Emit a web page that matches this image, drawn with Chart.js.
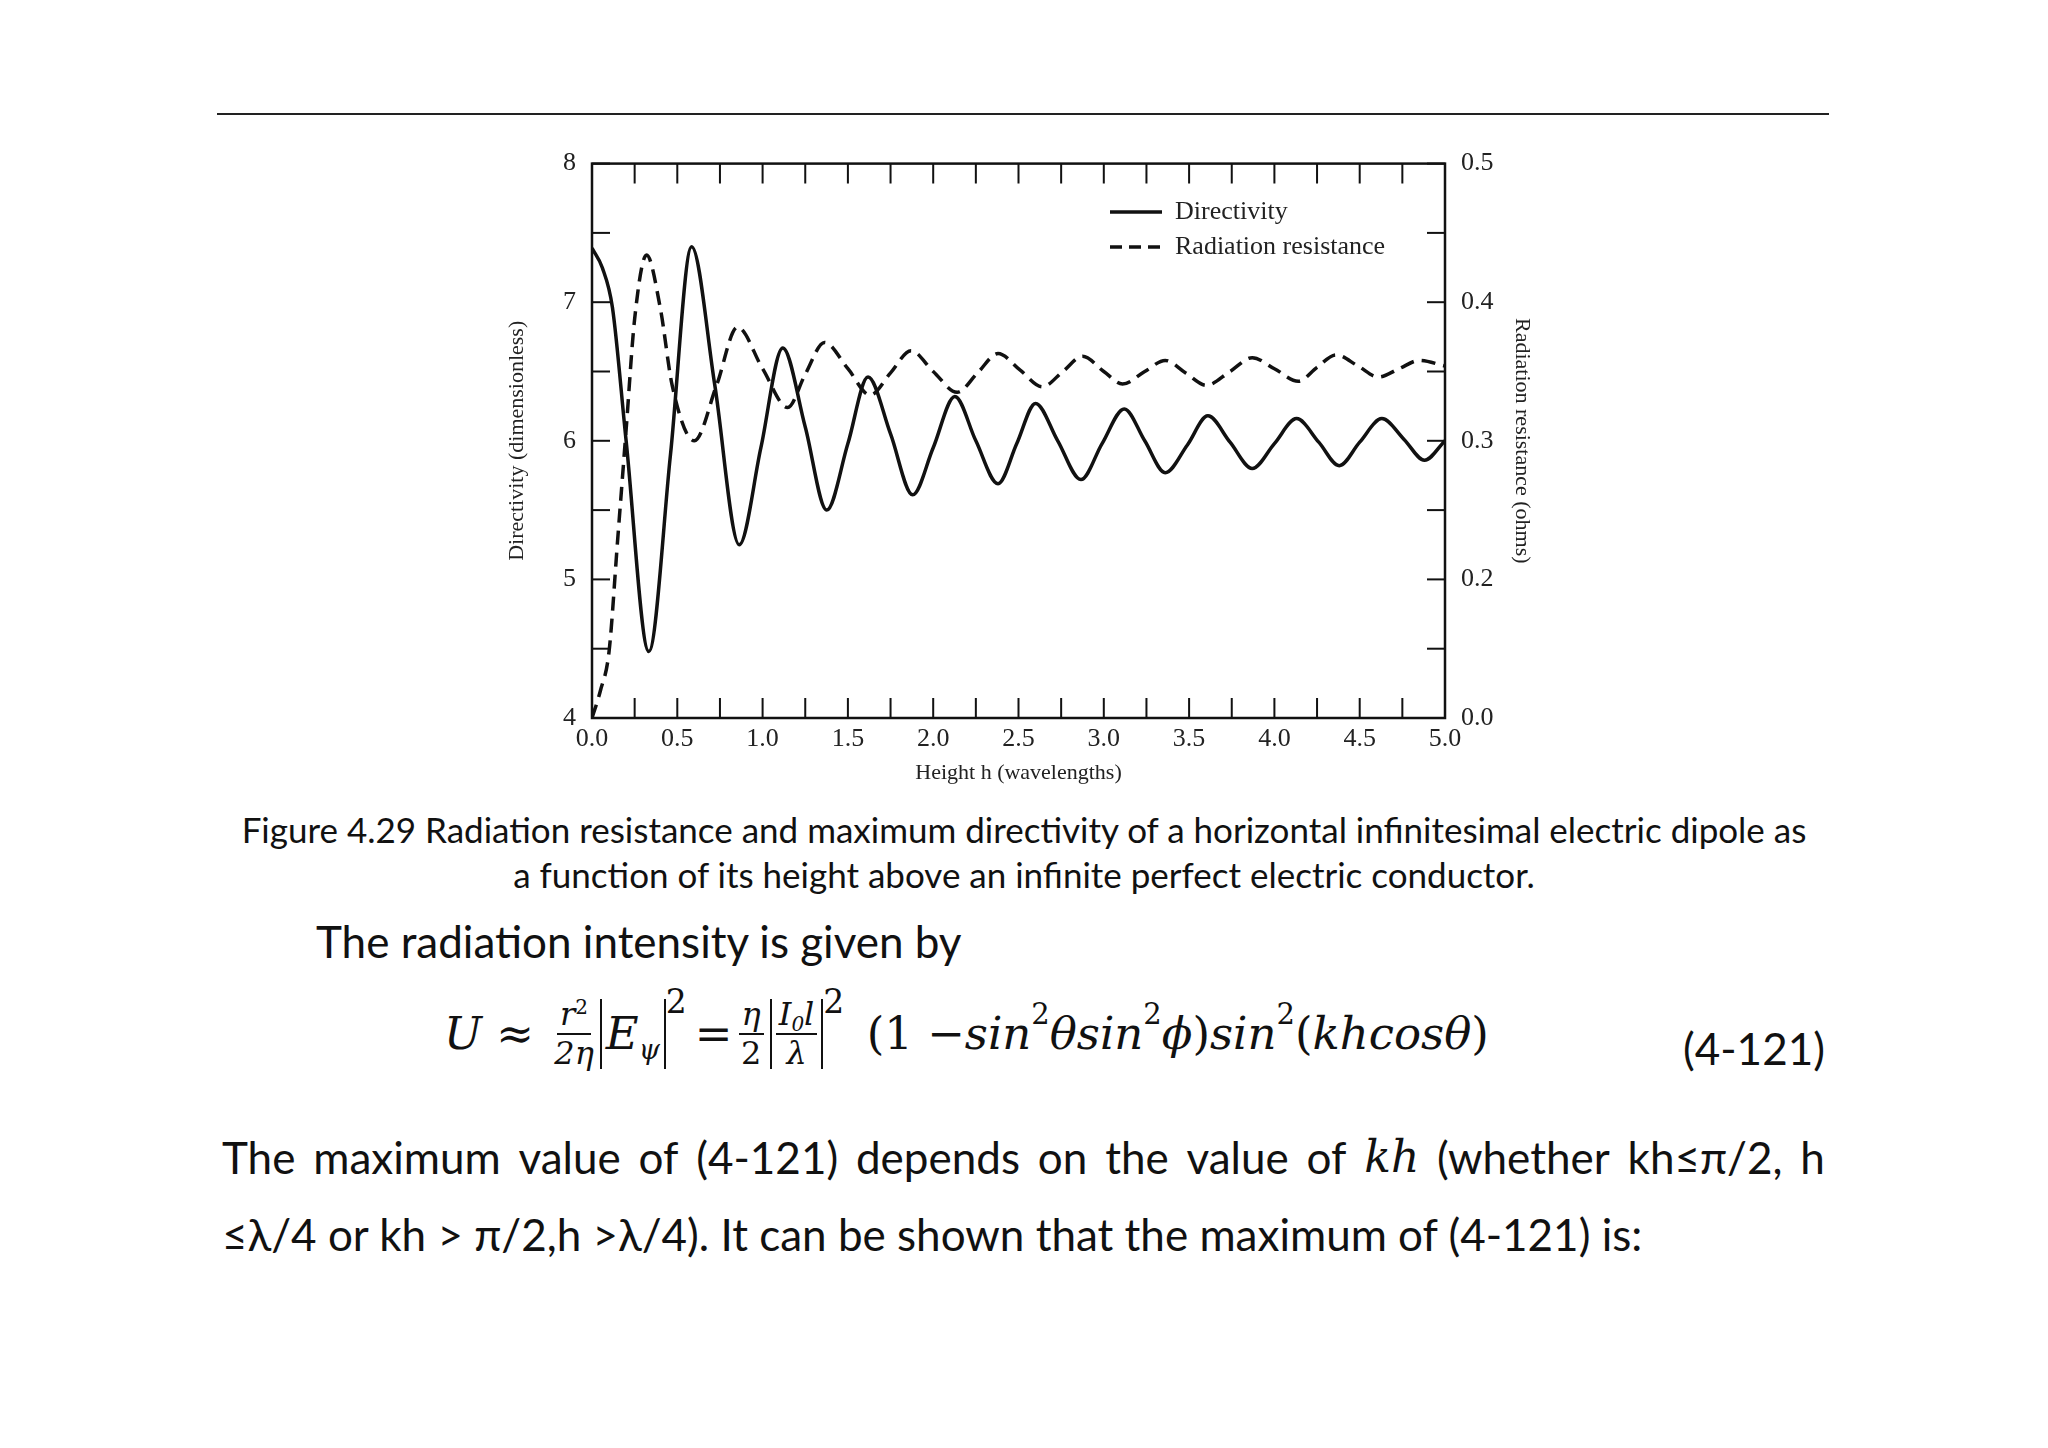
<!DOCTYPE html>
<html><head><meta charset="utf-8">
<script src="https://cdn.jsdelivr.net/npm/chart.js@4"></script>
<style>
body{margin:0;width:2048px;height:1448px;background:#fff;position:relative;font-family:Lato,"Open Sans",sans-serif;color:#111;overflow:hidden}
.rule{position:absolute;left:217px;top:113px;width:1612px;height:2px;background:#222}
#wrap{position:absolute;left:500px;top:140px;width:1035px;height:650px}
.t{position:absolute;white-space:nowrap}
.cap{font-size:35px;left:0;width:2048px;text-align:center}
.body{font-size:44px}
.m{font-family:"DejaVu Serif","Liberation Serif",serif;font-style:italic}
.eq{position:absolute;top:996px;left:444px;font-family:"DejaVu Serif","Liberation Serif",serif;font-size:45px;display:flex;align-items:center;white-space:nowrap}
.fr{display:inline-flex;flex-direction:column;align-items:center;font-size:32px;line-height:1.15;margin:0 6px}
.fr>span:first-child{border-bottom:2px solid #111;padding:0 3px}
.bar{border-left:2px solid #111;border-right:2px solid #111;padding:0 4px;height:70px;display:inline-flex;align-items:center}
.sp{font-size:29px;position:relative;top:-20px;font-style:normal}
.spb{font-size:33px;position:relative;top:-32px;margin-right:8px}
.sb{font-size:27px;position:relative;top:10px}
</style></head><body>
<div class="rule"></div>
<div id="wrap"><canvas id="c"></canvas></div>
<div class="t cap" style="top:808px">Figure 4.29 Radiation resistance and maximum directivity of a horizontal infinitesimal electric dipole as</div>
<div class="t cap" style="top:853px">a function of its height above an infinite perfect electric conductor.</div>
<div class="t body" style="left:316px;top:915px">The radiation intensity is given by</div>
<div class="eq"><span class="m">U</span>&nbsp;≈&nbsp;<span class="fr"><span class="m">r<span class="sp" style="font-size:20px;top:-11px">2</span></span><span class="m">2η</span></span><span class="bar"><span class="m">E<span class="sb">ψ</span></span></span><span class="spb">2</span>=<span class="fr"><span class="m">η</span><span>2</span></span><span class="bar"><span class="fr" style="margin:0"><span class="m">I<span class="sb" style="font-size:20px;top:6px">0</span>l</span><span class="m">λ</span></span></span><span class="spb">2</span>&nbsp;(1 − <span class="m">sin</span><span class="sp">2</span><span class="m">θsin</span><span class="sp">2</span><span class="m">ϕ</span>)<span class="m">sin</span><span class="sp">2</span>(<span class="m">khcosθ</span>)</div>
<div class="t body" style="left:1683px;top:1022px">(4-121)</div>
<div class="t body" style="left:222px;top:1131px;width:1603px;display:flex;justify-content:space-between"><span>The</span><span>maximum</span><span>value</span><span>of</span><span>(4-121)</span><span>depends</span><span>on</span><span>the</span><span>value</span><span>of</span><span class="m">kh</span><span>(whether</span><span>kh≤π/2,</span><span>h</span></div>
<div class="t body" style="left:222px;top:1208px">≤λ/4 or kh &gt; π/2,h &gt;λ/4). It can be shown that the maximum of (4-121) is:</div>
<script>
const dirX = [0,0.06,0.12,0.2,0.333,0.46,0.584,0.72,0.863,0.99,1.118,1.25,1.376,1.5,1.618,1.75,1.88,2.0,2.127,2.25,2.38,2.49,2.6,2.73,2.866,2.99,3.12,3.24,3.36,3.49,3.61,3.74,3.87,4.0,4.13,4.26,4.38,4.5,4.63,4.76,4.88,5.0];
const dirY = [7.39,7.25,6.96,6.0,4.48,5.9,7.40,6.4,5.25,5.95,6.67,6.1,5.50,5.98,6.46,6.05,5.61,5.95,6.32,6.0,5.69,5.98,6.27,6.0,5.72,5.98,6.23,6.0,5.77,5.97,6.18,5.99,5.80,5.98,6.16,5.99,5.82,5.99,6.16,6.01,5.86,6.0];
const resX = [0,0.05,0.1,0.15,0.2,0.25,0.32,0.4,0.47,0.6,0.73,0.853,1.0,1.147,1.25,1.363,1.5,1.63,1.75,1.87,2.0,2.14,2.26,2.38,2.51,2.64,2.76,2.876,3.0,3.11,3.24,3.36,3.48,3.60,3.74,3.87,4.0,4.14,4.25,4.36,4.49,4.61,4.73,4.85,5.0];
const resY = [0.100,0.120,0.148,0.228,0.308,0.388,0.434,0.396,0.340,0.300,0.340,0.382,0.352,0.324,0.348,0.371,0.352,0.333,0.349,0.365,0.350,0.335,0.349,0.363,0.351,0.339,0.350,0.361,0.350,0.341,0.350,0.358,0.349,0.340,0.350,0.360,0.352,0.343,0.353,0.362,0.354,0.346,0.352,0.358,0.354];
const xTicks = [0,0.5,1,1.5,2,2.5,3,3.5,4,4.5,5];
const leftTicks = [4,5,6,7,8];
const rightTicks = [0.1,0.2,0.3,0.4,0.5];
const rightTickLabels = ['0.0','0.2','0.3','0.4','0.5'];
const labels = ['Directivity','Radiation resistance'];
const serif = '"Liberation Serif","DejaVu Serif",serif';

const deco = {id:'deco', afterDraw(ch){
  const c=ch.ctx, a=ch.chartArea, x=ch.scales.x, yl=ch.scales.y, yr=ch.scales.y2;
  c.save(); c.strokeStyle='#111'; c.lineWidth=2.5; c.strokeRect(a.left,a.top,a.right-a.left,a.bottom-a.top);
  c.lineWidth=2;
  for(let v=0; v<=5.0001; v+=0.25){const p=x.getPixelForValue(v);const L=20;
    c.beginPath();c.moveTo(p,a.bottom);c.lineTo(p,a.bottom-L);c.moveTo(p,a.top);c.lineTo(p,a.top+L);c.stroke();}
  for(let v=4; v<=8.0001; v+=0.5){const p=yl.getPixelForValue(v);c.beginPath();c.moveTo(a.left,p);c.lineTo(a.left+18,p);c.stroke();}
  for(let v=0.1; v<=0.5001; v+=0.05){const p=yr.getPixelForValue(v);c.beginPath();c.moveTo(a.right,p);c.lineTo(a.right-18,p);c.stroke();}
  c.font='26px '+serif; c.fillStyle='#222'; c.textBaseline='middle';
  const lx=1110-500, ly=[212-140,247-140];
  c.lineWidth=3.5;
  c.setLineDash([]); c.beginPath(); c.moveTo(lx,ly[0]); c.lineTo(lx+52,ly[0]); c.stroke();
  c.setLineDash([12,7]); c.beginPath(); c.moveTo(lx,ly[1]); c.lineTo(lx+52,ly[1]); c.stroke();
  c.setLineDash([]);
  c.fillText(labels[0],lx+65,ly[0]); c.fillText(labels[1],lx+65,ly[1]);
  c.restore();
}};

new Chart(document.getElementById('c'),{
  type:'line',
  data:{datasets:[
    {label:labels[0],data:dirX.map((v,i)=>({x:v,y:dirY[i]})),yAxisID:'y',borderColor:'#111',borderWidth:3.5,pointRadius:0,cubicInterpolationMode:'monotone'},
    {label:labels[1],data:resX.map((v,i)=>({x:v,y:resY[i]})),yAxisID:'y2',borderColor:'#111',borderWidth:3.5,borderDash:[14,8],pointRadius:0,cubicInterpolationMode:'monotone'}
  ]},
  options:{responsive:true,maintainAspectRatio:false,animation:false,
    layout:{padding:{top:21,left:0,right:0,bottom:0}},
    plugins:{legend:{display:false},tooltip:{enabled:false}},
    scales:{
      x:{type:'linear',min:0,max:5,afterBuildTicks(s){s.ticks=xTicks.map(v=>({value:v}));},
        grid:{display:false},border:{display:false},
        ticks:{padding:-2,color:'#222',font:{family:serif,size:26},callback:v=>v.toFixed(1),maxRotation:0},
        title:{display:true,text:'Height h (wavelengths)',color:'#222',font:{family:serif,size:22},padding:{top:0}},
        afterFit(s){s.height=72;}},
      y:{position:'left',min:4,max:8,afterBuildTicks(s){s.ticks=leftTicks.map(v=>({value:v}));},
        grid:{display:false},border:{display:false},
        ticks:{padding:8,color:'#222',font:{family:serif,size:26}},
        title:{display:true,text:'Directivity (dimensionless)',color:'#222',font:{family:serif,size:22},padding:{bottom:8}},
        afterFit(s){s.width=92;}},
      y2:{position:'right',min:0.1,max:0.5,afterBuildTicks(s){s.ticks=rightTicks.map(v=>({value:v}));},
        grid:{display:false},border:{display:false},
        ticks:{padding:8,color:'#222',font:{family:serif,size:26},callback:(v,i)=>rightTickLabels[i]},
        title:{display:true,text:'Radiation resistance (ohms)',color:'#222',font:{family:serif,size:22},padding:{top:0}},
        afterFit(s){s.width=90;}}
    }},
  plugins:[deco]
});
</script>
</body></html>
